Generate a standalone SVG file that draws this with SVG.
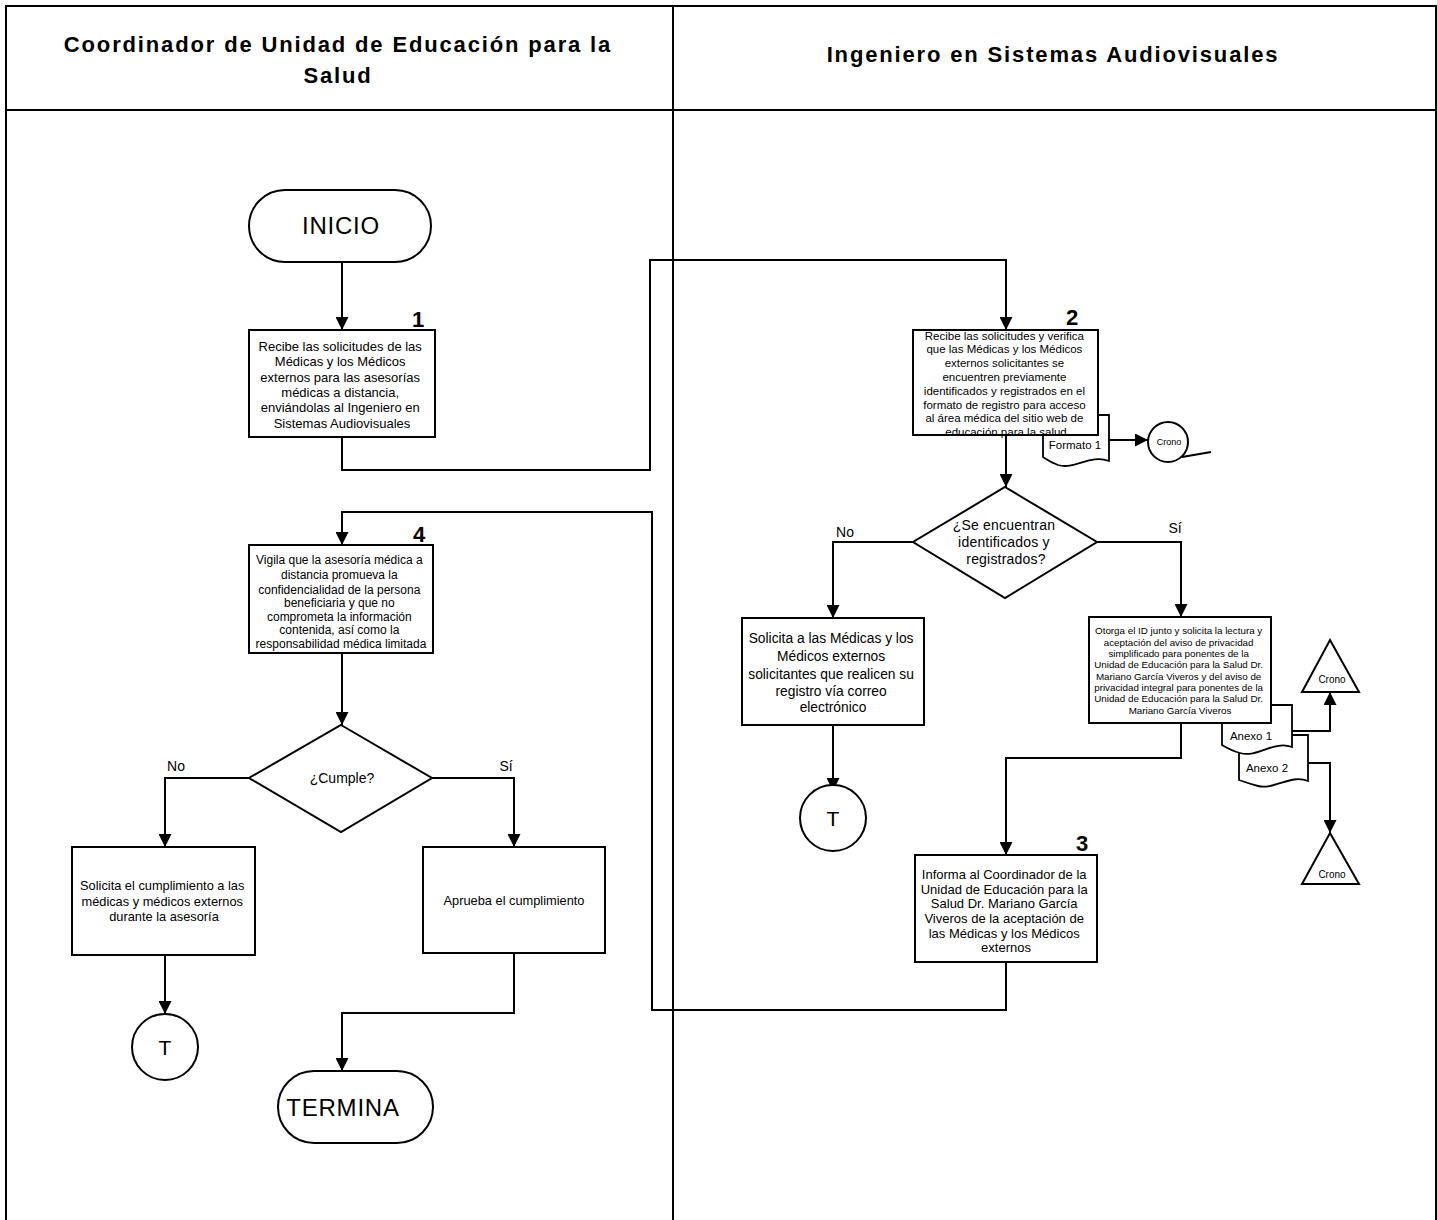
<svg xmlns="http://www.w3.org/2000/svg" width="1437" height="1220" viewBox="0 0 1437 1220">
<style>
.bg{fill:#fff}
.lane{fill:none;stroke:#000;stroke-width:2}
.box{fill:#fff;stroke:#000;stroke-width:2}
.doc{fill:#fff;stroke:#000;stroke-width:1.8}
.ln{fill:none;stroke:#000;stroke-width:2}
.hd{font-family:"Liberation Sans",Arial,sans-serif;font-weight:bold;font-size:22px;letter-spacing:1.85px;text-anchor:middle}
.t{font-family:"Liberation Sans",Arial,sans-serif;text-anchor:middle;fill:#000}
.num{font-family:"Liberation Sans",Arial,sans-serif;font-weight:bold;font-size:22px;text-anchor:middle}
</style>
<defs>
<marker id="ah" markerUnits="userSpaceOnUse" markerWidth="13" markerHeight="13" viewBox="0 0 10 10" refX="10" refY="5" orient="auto">
<path d="M0,0 L10,5 L0,10 z" fill="#000"/>
</marker>
</defs>
<rect class="bg" x="0" y="0" width="1437" height="1220"/>
<g id="lanes">
<path class="lane" d="M6,1220 V6 H1436 V1220 M6,110 H1436 M673,6 V1220"/>
<text class="hd" x="338" y="52">Coordinador de Unidad de Educación para la</text>
<text class="hd" x="338" y="83">Salud</text>
<text class="hd" x="1053" y="62">Ingeniero en Sistemas Audiovisuales</text>
</g>
<g id="connectors">
<path class="ln" d="M342,262 V330" marker-end="url(#ah)"/>
<path class="ln" d="M342,437 V470 H650 V260 H1006 V330" marker-end="url(#ah)"/>
<path class="ln" d="M1006,435 V487" marker-end="url(#ah)"/>
<path class="ln" d="M1108,440 H1148" marker-end="url(#ah)"/>
<path class="ln" d="M913,542 H833 V618" marker-end="url(#ah)"/>
<path class="ln" d="M1097,542 H1181 V617" marker-end="url(#ah)"/>
<path class="ln" d="M833,725 V791" marker-end="url(#ah)"/>
<path class="ln" d="M1181,723 V758 H1006 V855" marker-end="url(#ah)"/>
<path class="ln" d="M1292,731 H1330 V692" marker-end="url(#ah)"/>
<path class="ln" d="M1308,763 H1330 V833" marker-end="url(#ah)"/>
<path class="ln" d="M1006,962 V1010 H652 V512 H342 V545" marker-end="url(#ah)"/>
<path class="ln" d="M342,653 V725" marker-end="url(#ah)"/>
<path class="ln" d="M249,778 H165 V847" marker-end="url(#ah)"/>
<path class="ln" d="M432,778 H514 V847" marker-end="url(#ah)"/>
<path class="ln" d="M165,955 V1014" marker-end="url(#ah)"/>
<path class="ln" d="M514,953 V1013 H342 V1071" marker-end="url(#ah)"/>
<text class="t" font-size="14" x="845" y="537">No</text>
<text class="t" font-size="14" x="1175" y="533">Sí</text>
<text class="t" font-size="14" x="176" y="771">No</text>
<text class="t" font-size="14" x="506" y="771">Sí</text>
</g>
<g id="inicio">
<rect class="box" x="249" y="190" width="182" height="72" rx="36" ry="36"/>
<text class="t" font-size="24" letter-spacing="0.8" x="341" y="234">INICIO</text>
</g>
<g id="n1">
<rect class="box" x="249" y="330" width="186" height="107"/>
<text class="num" x="418" y="327">1</text>
<text class="t" font-size="13">
<tspan x="342" y="351">Recibe las solicitudes de las</tspan>
<tspan x="342" y="366">Médicas y los Médicos</tspan>
<tspan x="342" y="382">externos para las asesorías</tspan>
<tspan x="342" y="397">médicas a distancia,</tspan>
<tspan x="342" y="412">enviándolas al Ingeniero en</tspan>
<tspan x="342" y="428">Sistemas Audiovisuales</tspan>
</text>
</g>
<g id="formato1">
<path class="doc" d="M1043,415 H1109 V461 C1090,454 1075,470 1058,465 C1050,462 1046,459 1043,457 Z"/>
<text class="t" font-size="11.5" x="1075" y="449">Formato 1</text>
</g>
<g id="n2">
<rect class="box" x="913" y="330" width="185" height="105"/>
<text class="num" x="1072" y="325">2</text>
<text class="t" font-size="11.5">
<tspan x="1006" y="340">Recibe las solicitudes y verifica</tspan>
<tspan x="1006" y="353">que las Médicas y los Médicos</tspan>
<tspan x="1006" y="367">externos solicitantes se</tspan>
<tspan x="1006" y="381">encuentren previamente</tspan>
<tspan x="1006" y="395">identificados y registrados en el</tspan>
<tspan x="1006" y="409">formato de registro para acceso</tspan>
<tspan x="1006" y="422">al área médica del sitio web de</tspan>
<tspan x="1006" y="436">educación para la salud</tspan>
</text>
</g>
<g id="crono1">
<circle class="box" cx="1168" cy="442" r="20"/>
<path class="ln" d="M1182,457 L1211,452" stroke-width="1.5"/>
<text class="t" font-size="9" x="1169" y="445">Crono</text>
</g>
<g id="d1">
<polygon class="box" points="1005,487 1097,542 1005,598 913,542"/>
<text class="t" font-size="14" letter-spacing="0.2">
<tspan x="1006" y="530">¿Se encuentran</tspan>
<tspan x="1006" y="547">identificados y</tspan>
<tspan x="1006" y="564">registrados?</tspan>
</text>
</g>
<g id="n_solicita_reg">
<rect class="box" x="742" y="618" width="182" height="107"/>
<text class="t" font-size="13.8">
<tspan x="833" y="643">Solicita a las Médicas y los</tspan>
<tspan x="833" y="661">Médicos externos</tspan>
<tspan x="833" y="679">solicitantes que realicen su</tspan>
<tspan x="833" y="696">registro vía correo</tspan>
<tspan x="833" y="712">electrónico</tspan>
</text>
</g>
<g id="t1">
<circle class="box" cx="833" cy="818" r="33"/>
<text class="t" font-size="21" x="833" y="826">T</text>
</g>
<g id="anexo2">
<path class="doc" d="M1239,735 H1308 V781 C1290,774 1275,790 1258,786 C1250,784 1245,782 1239,780 Z"/>
<text class="t" font-size="11.5" x="1267" y="772">Anexo 2</text>
</g>
<g id="anexo1">
<path class="doc" d="M1222,705 H1292 V747 C1274,740 1258,758 1240,753 C1232,751 1227,748 1222,745 Z"/>
<text class="t" font-size="11.5" x="1251" y="740">Anexo 1</text>
</g>
<g id="n_otorga">
<rect class="box" x="1089" y="617" width="182" height="106"/>
<text class="t" font-size="9.8">
<tspan x="1180" y="634">Otorga el ID junto y solicita la lectura y</tspan>
<tspan x="1180" y="646">aceptación del aviso de privacidad</tspan>
<tspan x="1180" y="657">simplificado para ponentes de la</tspan>
<tspan x="1180" y="668">Unidad de Educación para la Salud Dr.</tspan>
<tspan x="1180" y="680">Mariano García Viveros y del aviso de</tspan>
<tspan x="1180" y="691">privacidad integral para ponentes de la</tspan>
<tspan x="1180" y="702">Unidad de Educación para la Salud Dr.</tspan>
<tspan x="1180" y="714">Mariano García Viveros</tspan>
</text>
</g>
<g id="crono2">
<polygon class="box" points="1330,640 1359,692 1302,692"/>
<text class="t" font-size="10" x="1332" y="683">Crono</text>
</g>
<g id="crono3">
<polygon class="box" points="1330,833 1359,884 1302,884"/>
<text class="t" font-size="10" x="1332" y="878">Crono</text>
</g>
<g id="n3">
<rect class="box" x="915" y="855" width="182" height="107"/>
<text class="num" x="1082" y="851">3</text>
<text class="t" font-size="13">
<tspan x="1006" y="879">Informa al Coordinador de la</tspan>
<tspan x="1006" y="894">Unidad de Educación para la</tspan>
<tspan x="1006" y="908">Salud Dr. Mariano García</tspan>
<tspan x="1006" y="923">Viveros de la aceptación de</tspan>
<tspan x="1006" y="938">las Médicas y los Médicos</tspan>
<tspan x="1006" y="952">externos</tspan>
</text>
</g>
<g id="n4">
<rect class="box" x="249" y="545" width="184" height="108"/>
<text class="num" x="419" y="542">4</text>
<text class="t" font-size="12">
<tspan x="341" y="564">Vigila que la asesoría médica a</tspan>
<tspan x="341" y="579">distancia promueva la</tspan>
<tspan x="341" y="594">confidencialidad de la persona</tspan>
<tspan x="341" y="607">beneficiaria y que no</tspan>
<tspan x="341" y="621">comprometa la información</tspan>
<tspan x="341" y="634">contenida, así como la</tspan>
<tspan x="341" y="648">responsabilidad médica limitada</tspan>
</text>
</g>
<g id="d2">
<polygon class="box" points="341,725 432,778 341,832 249,778"/>
<text class="t" font-size="14" x="342" y="783">¿Cumple?</text>
</g>
<g id="n_solicita_cump">
<rect class="box" x="72" y="847" width="183" height="108"/>
<text class="t" font-size="12.8">
<tspan x="164" y="890">Solicita el cumplimiento a las</tspan>
<tspan x="164" y="906">médicas y médicos externos</tspan>
<tspan x="164" y="921">durante la asesoría</tspan>
</text>
</g>
<g id="n_aprueba">
<rect class="box" x="423" y="847" width="182" height="106"/>
<text class="t" font-size="12.8" x="514" y="905">Aprueba el cumplimiento</text>
</g>
<g id="t2">
<circle class="box" cx="165" cy="1047" r="33"/>
<text class="t" font-size="21" x="165" y="1055">T</text>
</g>
<g id="termina">
<rect class="box" x="278" y="1071" width="155" height="72" rx="36" ry="36"/>
<text class="t" font-size="24" letter-spacing="0.8" x="343" y="1116">TERMINA</text>
</g>
</svg>
